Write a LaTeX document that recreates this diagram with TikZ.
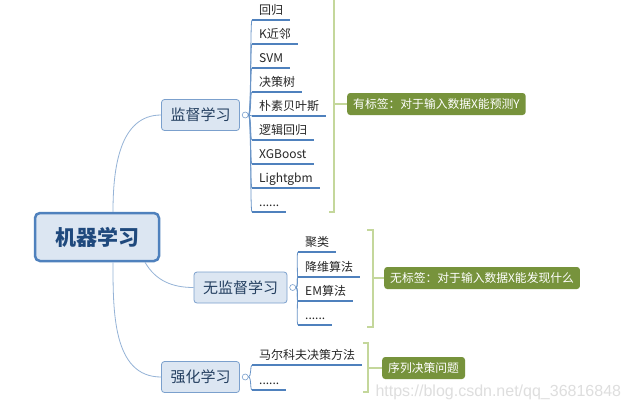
\documentclass[tikz,border=0pt]{standalone}
\usepackage{fontspec}
\setmainfont{Noto Sans CJK SC}
\newfontfamily\wmfont{Liberation Sans}
\usetikzlibrary{positioning}
\definecolor{rootfill}{HTML}{DCE6F2}
\definecolor{rootline}{HTML}{4F81BD}
\definecolor{roottext}{HTML}{1F497D}
\definecolor{branchline}{HTML}{7BA0CD}
\definecolor{branchtext}{HTML}{243F60}
\definecolor{linkblue}{HTML}{95B3D7}
\definecolor{ulineblue}{HTML}{4F81BD}
\definecolor{bracegreen}{HTML}{C4D79B}
\definecolor{notefill}{HTML}{77933C}
\tikzset{
  root/.style={draw=rootline, line width=2.5pt, fill=rootfill, rounded corners=5pt, minimum width=124pt, minimum height=48pt, font=\fontsize{21}{24}\selectfont\bfseries, text=roottext},
  branch/.style={draw=branchline, line width=0.8pt, fill=rootfill, rounded corners=3pt, inner xsep=9pt, minimum height=31pt, font=\fontsize{15}{18}\selectfont, text=branchtext},
  knob/.style={circle, draw=branchline, fill=white, line width=0.6pt, inner sep=0pt, minimum size=6pt},
  item/.style={anchor=south west, inner xsep=7pt, inner ysep=3pt, text height=9pt, text depth=2pt, font=\fontsize{12}{14}\selectfont, text=black!85},
  uline/.style={draw=ulineblue, line width=1.3pt},
  link/.style={draw=linkblue, line width=0.8pt},
  twig/.style={draw=ulineblue!85, line width=0.8pt},
  brace/.style={draw=bracegreen, line width=2pt},
  note/.style={anchor=west, fill=notefill, rounded corners=3pt, inner xsep=6pt, minimum height=22pt, font=\fontsize{11.8}{14}\selectfont, text=white}
}

\begin{document}
\begin{tikzpicture}[x=1pt,y=-1pt]
  \path[fill=white, use as bounding box] (0,0) rectangle (626,410);

  % root and the three branches
  \node[root] (ml) at (97,237) {机器学习};
  \node[branch] (sup) at (200.5,115) {监督学习};
  \node[branch] (uns) at (240.5,287.5) {无监督学习};
  \node[branch] (rl) at (200.5,377) {强化学习};
  \draw[link] ([xshift=16pt]ml.north) to[out=90,in=180] (sup.west);
  \draw[link] ([xshift=48pt]ml.south) to[out=-60,in=180] (uns.west);
  \draw[link] ([xshift=16pt]ml.south) to[out=-90,in=180] (rl.west);
  \node[knob, right=2pt of sup] (ksup) {};
  \node[knob, right=2pt of uns] (kuns) {};
  \node[knob, right=2pt of rl] (krl) {};

  % supervised
  \node[item] (s1) at (252,20) {回归};
  \node[item] (s2) at (252,44) {K近邻};
  \node[item] (s3) at (252,68) {SVM};
  \node[item] (s4) at (252,92) {决策树};
  \node[item] (s5) at (252,116) {朴素贝叶斯};
  \node[item] (s6) at (252,140) {逻辑回归};
  \node[item] (s7) at (252,164) {XGBoost};
  \node[item] (s8) at (252,188) {Lightgbm};
  \node[item] (s9) at (252,212) {......};
  \foreach \n in {s1,s2,s3,s4,s5,s6,s7,s8,s9}{
    \draw[twig] (ksup.east) .. controls +(3,0) and +(-2,0) .. (\n.south west);
    \draw[uline] (\n.south west) -- (\n.south east);
  }
  \draw[brace] (329,-4) -- (334,-4) -- (334,212) -- (329,212);
  \node[note] (nsup) at (347,104) {有标签：对于输入数据X能预测Y};
  \draw[brace] (334,104) -- (nsup.west);

  % unsupervised
  \node[item] (u1) at (298,252) {聚类};
  \node[item] (u2) at (298,277) {降维算法};
  \node[item] (u3) at (298,301) {EM算法};
  \node[item] (u4) at (298,325) {......};
  \foreach \n in {u1,u2,u3,u4}{
    \draw[twig] (kuns.east) .. controls +(3,0) and +(-2,0) .. (\n.south west);
    \draw[uline] (\n.south west) -- (\n.south east);
  }
  \draw[brace] (367,230) -- (373,230) -- (373,327) -- (367,327);
  \node[note] (nuns) at (384,278) {无标签：对于输入数据X能发现什么};
  \draw[brace] (373,278) -- (nuns.west);

  % reinforcement
  \node[item] (r1) at (252,365) {马尔科夫决策方法};
  \node[item] (r2) at (252,390) {......};
  \foreach \n in {r1,r2}{
    \draw[twig] (krl.east) .. controls +(3,0) and +(-2,0) .. (\n.south west);
    \draw[uline] (\n.south west) -- (\n.south east);
  }
  \draw[brace] (363,343) -- (368,343) -- (368,392) -- (363,392);
  \node[note] (nrl) at (382,368) {序列决策问题};
  \draw[brace] (368,368) -- (nrl.west);

  \node[anchor=west, font=\wmfont\fontsize{16}{18}\selectfont, text=black!13] (wm) at (372,392) {https://blog.csdn.net/qq\_36816848};
\end{tikzpicture}
\end{document}
